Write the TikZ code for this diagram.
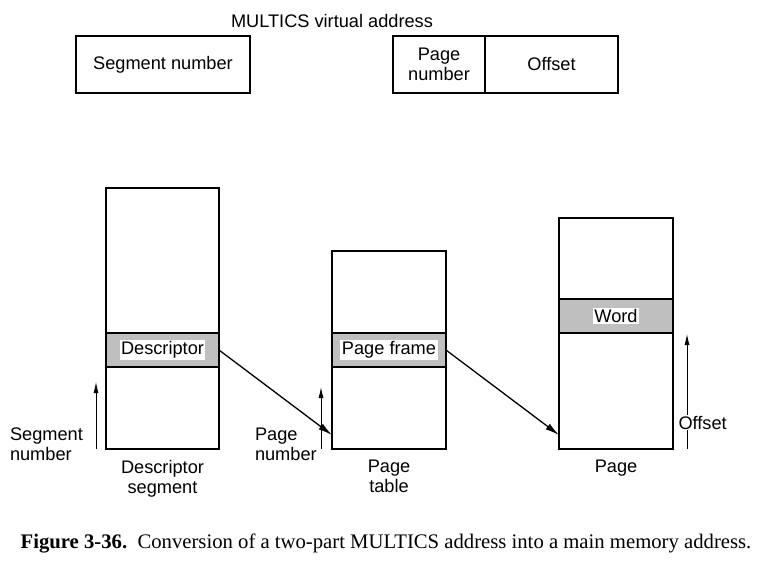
\documentclass[tikz,border=0pt]{standalone}
\usepackage{fontspec}
\setmainfont{Liberation Sans}
\newfontfamily\capfont{Liberation Serif}
\usetikzlibrary{calc}
\usetikzlibrary{arrows.meta}

\begin{document}
\begin{tikzpicture}[
        x=1pt, y=-1pt,
        every node/.style={inner sep=0pt, outer sep=0pt, font=\fontsize{18.2}{20}\selectfont},
        cell/.style={draw, line width=1.6pt, minimum height=57pt},
        memcol/.style={draw, line width=1.6pt},
        band/.style={draw, line width=1.6pt, fill=black!25, minimum height=34pt},
        tag/.style={fill=white, inner sep=1.5pt},
        >={Latex[length=11pt,width=5pt]}
    ]
        \useasboundingbox (0,0) rectangle (765,569);
        \node[anchor=base] (title) at (332,28) {MULTICS virtual address};
        \node[cell, minimum width=174pt] (segnum) at (163,64.5) {Segment number};
        \node[cell, minimum width=92pt, align=center] (pgnum) at (439,64.5) {Page\\number};
        \node[cell, minimum width=133pt] (offs) at ($(pgnum.east) + (66.5,0)$) {Offset};

        \node[memcol, minimum width=113pt, minimum height=261pt] (dseg) at (162.5,318.5) {};
        \node[band, minimum width=113pt] (dband) at (162.5,350) {};
        \node[tag] (desc) at (dband.center) {Descriptor};
        \node[memcol, minimum width=114pt, minimum height=198pt] (ptab) at (389,350) {};
        \node[band, minimum width=114pt] (pband) at (ptab.center) {};
        \node[tag] (pframe) at (pband.center) {Page frame};
        \node[memcol, minimum width=114pt, minimum height=231pt] (page) at (616,333.5) {};
        \node[band, minimum width=114pt] (wband) at (616,316) {};
        \node[tag] (word) at (wband.center) {Word};

        \coordinate (pin) at (ptab.west |- 0,435);
        \coordinate (win) at (page.west |- 0,435);
        \draw[-{Latex[length=14pt,width=7pt]}, line width=1.3pt] (dband.east) -- (pin);
        \draw[-{Latex[length=14pt,width=7pt]}, line width=1.3pt] (pband.east) -- (win);

        \coordinate (s0) at (96,449);
        \coordinate (s1) at (96,382);
        \coordinate (p0) at (321,449);
        \coordinate (p1) at (321,387);
        \coordinate (o0) at (687,449);
        \coordinate (o1) at (687,334);
        \draw[->, line width=0.9pt] (s0) -- (s1);
        \draw[->, line width=0.9pt] (p0) -- (p1);
        \draw[->, line width=0.9pt] (o0) -- (o1);

        \node[anchor=north west, align=left] (seglbl) at (10,428) {Segment\\number};
        \node[anchor=north west, align=left] (pglbl) at (255,428) {Page\\number};
        \node[anchor=base west, fill=white, inner sep=0.5pt] (offlbl) at (678,429) {Offset};
        \node[anchor=north, align=center] (dseglbl) at (dseg.south |- 0,460) {Descriptor\\segment};
        \node[anchor=north, align=center] (ptablbl) at (ptab.south |- 0,460) {Page\\table};
        \node[anchor=north] (pagelbl) at (page.south |- 0,460) {Page};

        \node[anchor=base, font=\capfont\fontsize{20.7}{22}\selectfont] (cap) at (386,548)
            {\textbf{Figure 3-36.}\enspace Conversion of a two-part MULTICS address into a main memory address.};
    \end{tikzpicture}
\end{document}
